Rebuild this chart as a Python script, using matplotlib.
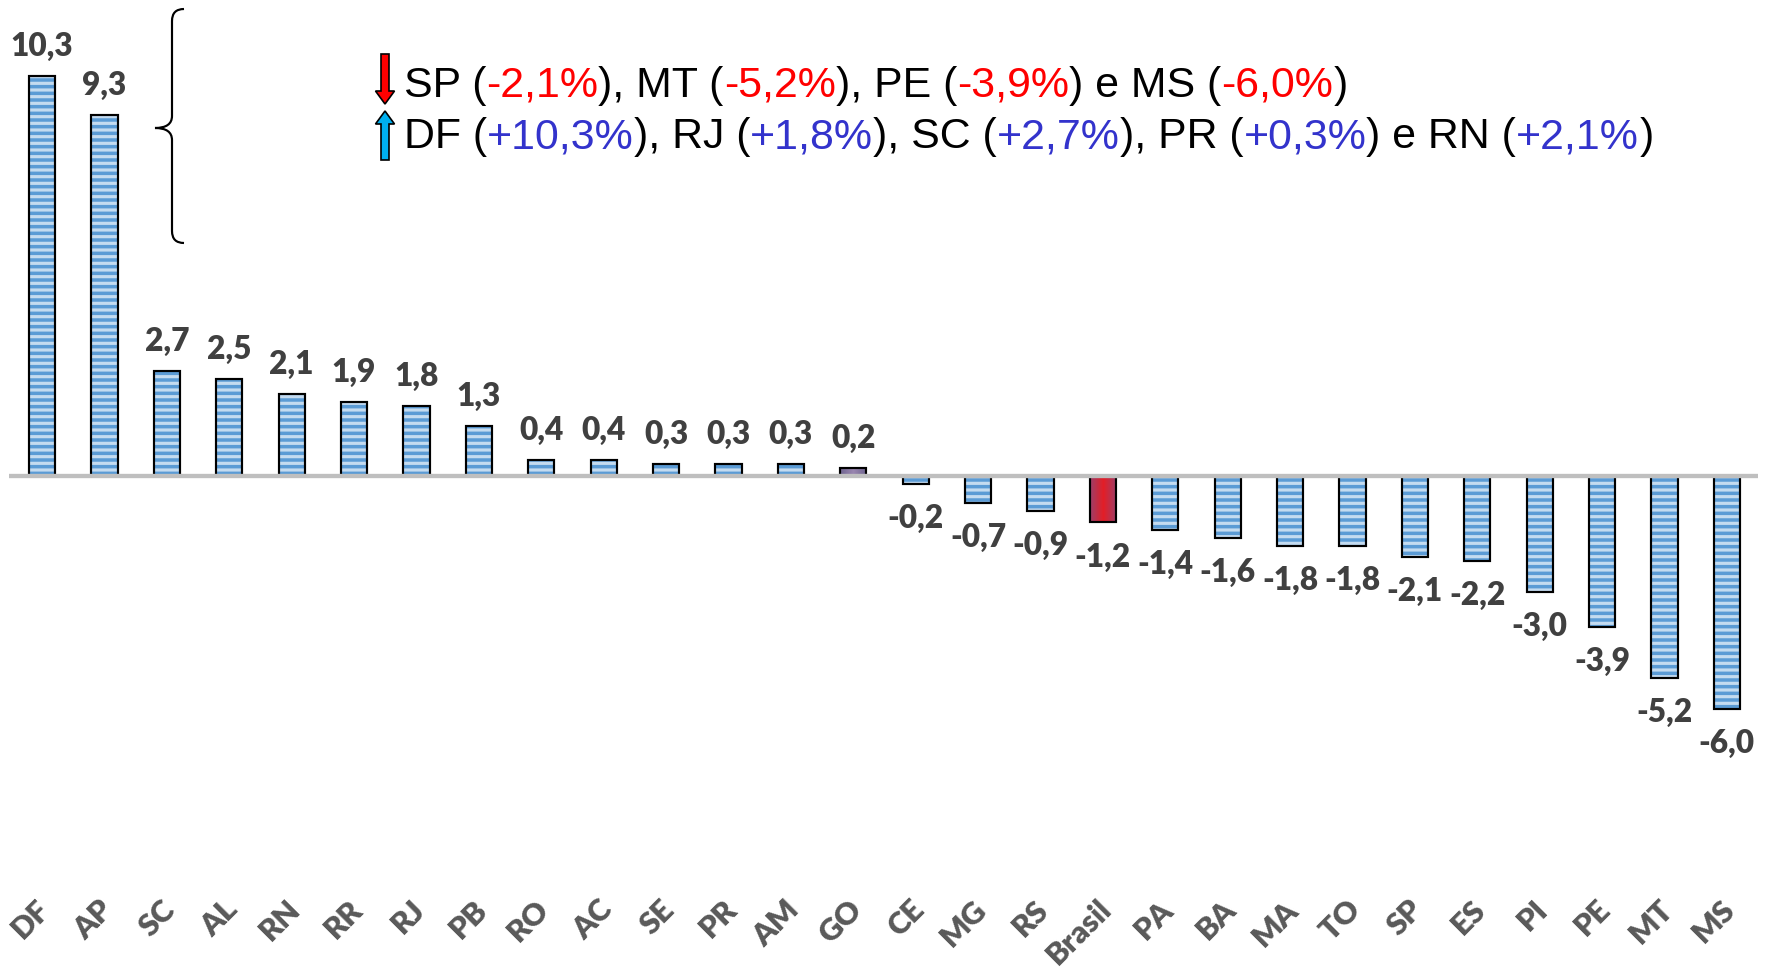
import matplotlib
matplotlib.use("Agg")
import numpy as np
import matplotlib.pyplot as plt
from matplotlib.colors import LinearSegmentedColormap
from matplotlib.patches import FancyArrow, PathPatch
from matplotlib.path import Path
from matplotlib.transforms import IdentityTransform

states = ["DF", "AP", "SC", "AL", "RN", "RR", "RJ", "PB", "RO", "AC", "SE", "PR", "AM", "GO",
          "CE", "MG", "RS", "Brasil", "PA", "BA", "MA", "TO", "SP", "ES", "PI", "PE", "MT", "MS"]
values = [10.3, 9.3, 2.7, 2.5, 2.1, 1.9, 1.8, 1.3, 0.4, 0.4, 0.3, 0.3, 0.3, 0.2,
          -0.2, -0.7, -0.9, -1.2, -1.4, -1.6, -1.8, -1.8, -2.1, -2.2, -3.0, -3.9, -5.2, -6.0]
labels = ["10,3", "9,3", "2,7", "2,5", "2,1", "1,9", "1,8", "1,3", "0,4", "0,4", "0,3", "0,3", "0,3", "0,2",
          "-0,2", "-0,7", "-0,9", "-1,2", "-1,4", "-1,6", "-1,8", "-1,8", "-2,1", "-2,2", "-3,0", "-3,9", "-5,2", "-6,0"]

line_down = [("SP (", "k"), ("-2,1%", "r"), ("), MT (", "k"), ("-5,2%", "r"), ("), PE (", "k"),
             ("-3,9%", "r"), (") e MS (", "k"), ("-6,0%", "r"), (")", "k")]
line_up = [("DF (", "k"), ("+10,3%", "b"), ("), RJ (", "k"), ("+1,8%", "b"), ("), SC (", "k"),
           ("+2,7%", "b"), ("), PR (", "k"), ("+0,3%", "b"), (") e RN (", "k"), ("+2,1%", "b"), (")", "k")]
palette = {"k": "black", "r": "#FF0000", "b": "#3333CC"}

DPI = 120
W, H = 1773, 974
fig = plt.figure(figsize=(W / DPI, H / DPI), dpi=DPI)
ax = fig.add_axes([9 / W, 0, 1749 / W, 1])
ax.axis("off")

x = list(range(len(states)))
BW = 0.42
plt.rcParams["hatch.linewidth"] = 1.9

# horizontal shading for the two solid bars (light centre, darker sides)
shade = {
    "Brasil": LinearSegmentedColormap.from_list("br", ["#9C3F6A", "#E41E26", "#9C3F6A"]),
    "GO": LinearSegmentedColormap.from_list("go", ["#6F6590", "#9A86B0", "#6F6590"]),
}
grad = np.linspace(0, 1, 64).reshape(1, -1)

for i, v in enumerate(values):
    if states[i] in shade:
        b = ax.bar(x[i], v, width=BW, color="none", linewidth=0, zorder=2)[0]
        im = ax.imshow(grad, cmap=shade[states[i]], aspect="auto", zorder=2,
                       extent=(x[i] - BW / 2, x[i] + BW / 2, min(0, v), max(0, v)))
        im.set_clip_path(b)
    else:
        ax.bar(x[i], v, width=BW, color="#5B9BD5", edgecolor="#C4DBF0",
               hatch="---", linewidth=0, zorder=2)
ax.bar(x, values, width=BW, fill=False, edgecolor="black", linewidth=1.3, zorder=3)
ax.set_xlim(-0.53, 27.5)
ax.set_ylim(-12.84, 12.27)

ax.axhline(0, color="#BFBFBF", linewidth=2.6, zorder=4)

for i, v in enumerate(values):
    if v >= 0:
        ax.annotate(labels[i], (x[i], v), xytext=(0, 9), textcoords="offset points",
                    ha="center", va="bottom", fontsize=19, fontweight=800,
                    family="Lato", color="#404040")
    else:
        ax.annotate(labels[i], (x[i], v), xytext=(0, -12), textcoords="offset points",
                    ha="center", va="top", fontsize=19, fontweight=800,
                    family="Lato", color="#404040")

for i, s in enumerate(states):
    ax.text(x[i] + 0.22, -10.8, s, rotation=45, ha="right", va="top",
            fontsize=18.5, fontweight=800, family="Lato", color="#595959")

renderer = fig.canvas.get_renderer()
FS = 25.7


def text_width(s):
    t = fig.text(0, 0, s + ".", fontsize=FS, family="Liberation Sans")
    w = t.get_window_extent(renderer).width
    t.remove()
    d = fig.text(0, 0, ".", fontsize=FS, family="Liberation Sans")
    wd = d.get_window_extent(renderer).width
    d.remove()
    return w - wd


def draw_line(parts, x0, y0):
    prefix = ""
    for s, c in parts:
        xp = x0 + (text_width(prefix) if prefix else 0)
        fig.text(xp / W, 1 - y0 / H, s, fontsize=FS, family="Liberation Sans",
                 color=palette[c], va="baseline", ha="left")
        prefix += s


draw_line(line_down, 404, 97)
draw_line(line_up, 404, 148)

fig.add_artist(FancyArrow(385, H - 54, 0, -50, width=8, head_width=19, head_length=13,
                          length_includes_head=True, fc="#FF0000", ec="black", lw=1,
                          transform=IdentityTransform()))
fig.add_artist(FancyArrow(385, H - 160, 0, 49, width=8, head_width=19, head_length=13,
                          length_includes_head=True, fc="#00B0F0", ec="black", lw=1,
                          transform=IdentityTransform()))

# curly brace beside the two tallest bars
pts = [(184, 9), (172, 9), (172, 21), (172, 116), (172, 128), (155, 128),
       (172, 128), (172, 140), (172, 231), (172, 243), (184, 243)]
verts = [(px, H - py) for px, py in pts]
codes = [Path.MOVETO, Path.CURVE3, Path.CURVE3, Path.LINETO, Path.CURVE3, Path.CURVE3,
         Path.CURVE3, Path.CURVE3, Path.LINETO, Path.CURVE3, Path.CURVE3]
fig.add_artist(PathPatch(Path(verts, codes), fill=False, lw=1.3, ec="black",
                         transform=IdentityTransform()))

fig.savefig("out.png", dpi=DPI)
